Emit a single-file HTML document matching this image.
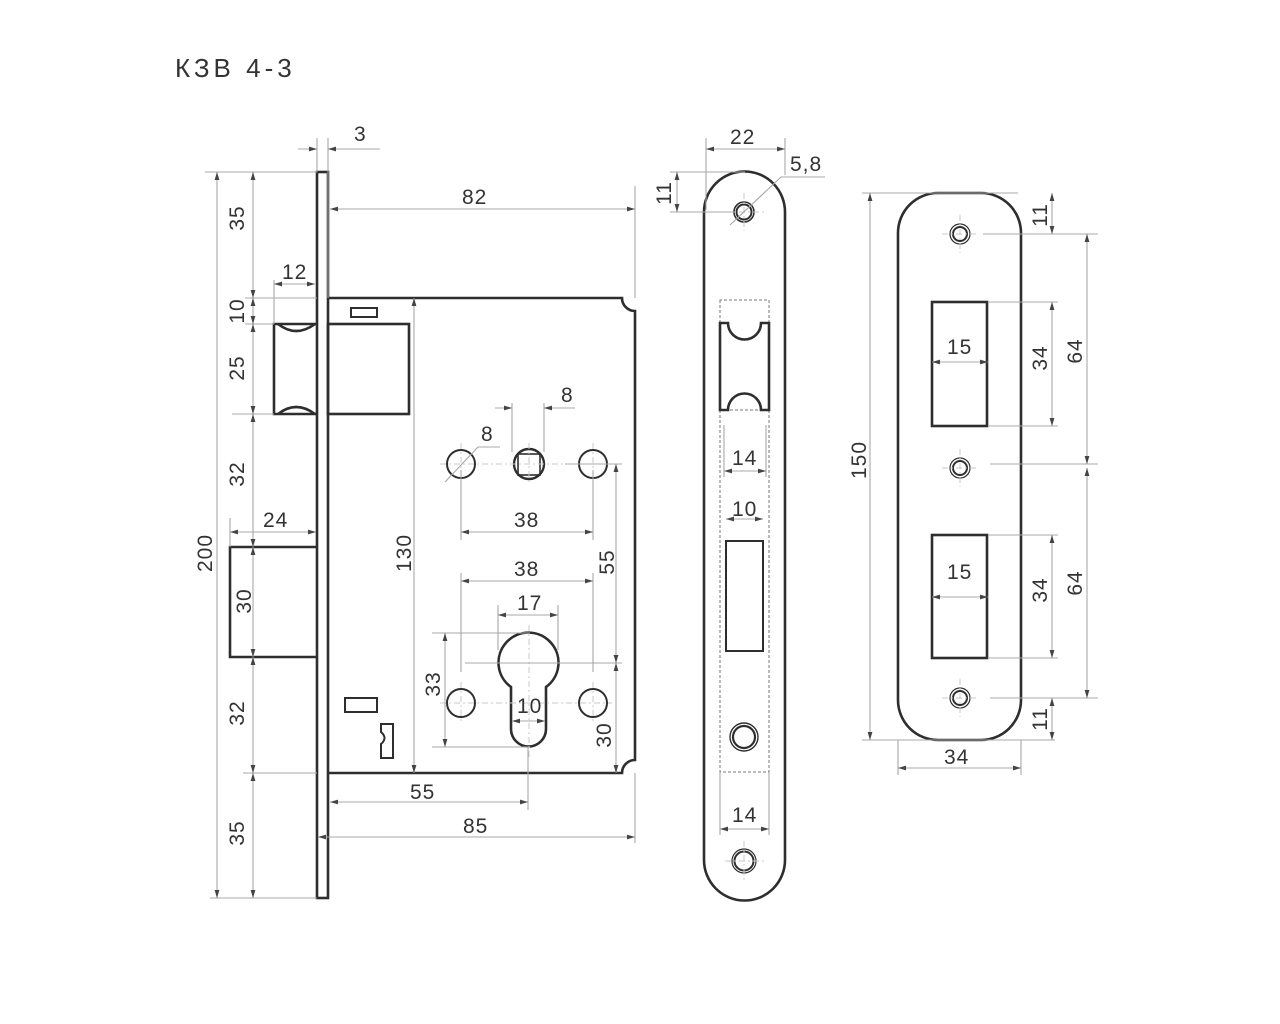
<!DOCTYPE html>
<html><head><meta charset="utf-8"><style>
html,body{margin:0;padding:0;background:#fff;}
svg{display:block}
text{font-family:"Liberation Sans Narrow","Liberation Sans",sans-serif;font-size:21px;fill:#333;letter-spacing:1px}
.o{fill:none;stroke:#2e2e2e;stroke-width:2.6}
.d{fill:none;stroke:#a8a8a8;stroke-width:1.1}
.c{fill:none;stroke:#c8c8c8;stroke-width:1;stroke-dasharray:6 3 2 3}
</style></head><body>
<svg width="1280" height="1024" viewBox="0 0 1280 1024" xmlns="http://www.w3.org/2000/svg">
<defs>
<marker id="a" viewBox="0 0 10 10" refX="10" refY="5" markerWidth="8" markerHeight="8" orient="auto-start-reverse" markerUnits="userSpaceOnUse"><path d="M0,2 L10,5 L0,8 z" fill="#444"/></marker>
</defs>
<text x="175" y="77" style="font-size:26px;letter-spacing:4px">КЗВ 4-3</text>

<!-- ===== LEFT LOCK ===== -->
<rect class="o" x="317" y="172" width="11" height="726"/>
<path class="o" d="M328,298 H622 A13,13 0 0 0 635,311 V760 A13,13 0 0 0 622,773 H328"/>
<path class="o" d="M317,324 H274 V414 H317"/>
<path class="o" d="M278,324 Q296,338 315,324"/>
<path class="o" d="M278,414 Q296,400 315,414"/>
<rect class="o" x="328" y="324" width="81" height="90"/>
<rect class="o" x="351" y="308" width="26" height="9" style="stroke-width:2"/>
<path class="o" d="M317,547 H230 V657 H317"/>
<rect class="o" x="345" y="698" width="32" height="14" style="stroke-width:2"/>
<path class="o" d="M381,724 H393 V758 H381 V744 Q388,738 381,732 Z" style="stroke-width:2"/>
<circle class="o" cx="461" cy="464" r="14" style="stroke-width:2"/>
<circle class="o" cx="529" cy="464" r="15" style="stroke-width:2.4"/>
<rect class="o" x="518" y="454" width="22" height="21" style="stroke-width:1.6"/>
<circle class="o" cx="593" cy="464" r="14" style="stroke-width:2"/>
<circle class="o" cx="461" cy="703" r="14" style="stroke-width:2"/>
<circle class="o" cx="593" cy="703" r="14" style="stroke-width:2"/>
<path class="o" d="M511,687 A30,30 0 1 1 546,687 V729 A17.5,17.5 0 0 1 511,729 Z"/>
<path class="c" d="M440,464 H612 M461,443 V485 M529,443 V485 M593,443 V485 M440,703 H612 M461,682 V724 M593,682 V724 M529,625 V760"/>

<g class="d">
<path d="M317,138 V172 M328,138 V298"/>
<path d="M298,149 H317" marker-end="url(#a)"/><path d="M380,149 H328" marker-end="url(#a)"/>
<path d="M205,172 H317 M245,298 H317 M245,324 H274 M232,414 H274 M243,773 H317 M210,898 H317"/>
<path d="M217,172 V898" marker-start="url(#a)" marker-end="url(#a)"/>
<path d="M253,172 V298" marker-start="url(#a)" marker-end="url(#a)"/>
<path d="M253,298 V324" marker-start="url(#a)" marker-end="url(#a)"/>
<path d="M253,324 V414" marker-start="url(#a)" marker-end="url(#a)"/>
<path d="M253,414 V547" marker-start="url(#a)" marker-end="url(#a)"/>
<path d="M253,547 V657" marker-start="url(#a)" marker-end="url(#a)"/>
<path d="M253,657 V773" marker-start="url(#a)" marker-end="url(#a)"/>
<path d="M253,773 V898" marker-start="url(#a)" marker-end="url(#a)"/>
<path d="M274,280 V324"/><path d="M274,284 H315" marker-start="url(#a)" marker-end="url(#a)"/>
<path d="M230,518 V547"/><path d="M230,532 H316" marker-start="url(#a)" marker-end="url(#a)"/>
<path d="M635,186 V298"/><path d="M330,209 H635" marker-start="url(#a)" marker-end="url(#a)"/>
<path d="M414,298 V773" marker-start="url(#a)" marker-end="url(#a)"/>
<path d="M512,403 V452 M544,403 V452"/><path d="M495,408 H512" marker-end="url(#a)"/><path d="M575,408 H544" marker-end="url(#a)"/>
<path d="M445,482 L478,447 H500"/>
<path d="M461,470 V540 M593,470 V540"/><path d="M461,532 H593" marker-start="url(#a)" marker-end="url(#a)"/>
<path d="M461,573 V672 M593,573 V672"/><path d="M461,581 H593" marker-start="url(#a)" marker-end="url(#a)"/>
<path d="M498,605 V650 M558,605 V650"/><path d="M498,615 H558" marker-start="url(#a)" marker-end="url(#a)"/>
<path d="M565,464 H622 M465,663 H622"/>
<path d="M616,464 V663" marker-start="url(#a)" marker-end="url(#a)"/>
<path d="M616,663 V773" marker-start="url(#a)" marker-end="url(#a)"/>
<path d="M432,633 H530 M432,747 H530"/><path d="M445,633 V747" marker-start="url(#a)" marker-end="url(#a)"/>
<path d="M512,721 H545" marker-start="url(#a)" marker-end="url(#a)"/>
<path d="M528,747 V810"/><path d="M330,802 H528" marker-start="url(#a)" marker-end="url(#a)"/>
<path d="M635,773 V843"/><path d="M318,837 H635" marker-start="url(#a)" marker-end="url(#a)"/>
</g>
<text x="354" y="141">3</text>
<text x="462" y="204">82</text>
<text x="282" y="279">12</text>
<text x="263" y="527">24</text>
<text x="561" y="402">8</text>
<text x="481" y="441">8</text>
<text x="514" y="527">38</text>
<text x="514" y="576">38</text>
<text x="517" y="610">17</text>
<text x="517" y="713">10</text>
<text x="410" y="799">55</text>
<text x="463" y="833">85</text>
<g>
<text transform="translate(244,218) rotate(-90)" text-anchor="middle">35</text>
<text transform="translate(244,311) rotate(-90)" text-anchor="middle">10</text>
<text transform="translate(244,368) rotate(-90)" text-anchor="middle">25</text>
<text transform="translate(244,474) rotate(-90)" text-anchor="middle">32</text>
<text transform="translate(251,601) rotate(-90)" text-anchor="middle">30</text>
<text transform="translate(244,713) rotate(-90)" text-anchor="middle">32</text>
<text transform="translate(244,833) rotate(-90)" text-anchor="middle">35</text>
<text transform="translate(212,553) rotate(-90)" text-anchor="middle">200</text>
<text transform="translate(411,553) rotate(-90)" text-anchor="middle">130</text>
<text transform="translate(614,562) rotate(-90)" text-anchor="middle">55</text>
<text transform="translate(611,735) rotate(-90)" text-anchor="middle">30</text>
<text transform="translate(440,684) rotate(-90)" text-anchor="middle">33</text>
</g>

<!-- ===== FACEPLATE ===== -->
<path class="o" d="M704,212 A40,40 0 0 1 785,212 V860 A40,40 0 0 1 704,860 Z"/>
<circle class="o" cx="744" cy="212" r="10" style="stroke-width:1.6"/><circle class="o" cx="744" cy="212" r="7.5" style="stroke-width:2"/>
<circle class="o" cx="744" cy="737" r="14" style="stroke-width:1.4"/><circle class="o" cx="744" cy="737" r="11" style="stroke-width:2.2"/>
<circle class="o" cx="744" cy="861" r="12" style="stroke-width:1.2"/><circle class="o" cx="744" cy="861" r="9.5" style="stroke-width:2"/>
<path d="M720,300 V772 H769 V300 Z M720,410 H769" fill="none" stroke="#777" stroke-width="1" stroke-dasharray="3 2"/>
<path class="o" d="M720,323 H728 A16,16 0 0 0 761,323 H769 V410 H761 A16,16 0 0 0 728,410 H720 Z" style="fill:#fff"/>
<rect class="o" x="726" y="541" width="37" height="110" style="stroke-width:2"/>
<path class="c" d="M725,212 H765 M744,193 V231 M725,861 H765 M744,841 V881"/>
<g class="d">
<path d="M706,138 V210 M785,138 V175"/><path d="M706,149 H785" marker-start="url(#a)" marker-end="url(#a)"/>
<path d="M670,172 H745 M670,212 H735"/><path d="M677,172 V212" marker-start="url(#a)" marker-end="url(#a)"/>
<path d="M825,177 H781 L730,225"/>
<path d="M724,425 V477 M766,425 V477"/><path d="M724,471 H766" marker-start="url(#a)" marker-end="url(#a)"/>
<path d="M726,519 H763" marker-start="url(#a)" marker-end="url(#a)"/>
<path d="M720,772 V835 M769,772 V835"/><path d="M720,829 H769" marker-start="url(#a)" marker-end="url(#a)"/>
</g>
<text x="730" y="144">22</text>
<text x="790" y="171">5,8</text>
<text x="732" y="465">14</text>
<text x="732" y="516">10</text>
<text x="732" y="822">14</text>
<text transform="translate(671,193) rotate(-90)" text-anchor="middle">11</text>

<!-- ===== STRIKE PLATE ===== -->
<path class="o" d="M938,193 H981 A40,40 0 0 1 1021,233 V700 A40,40 0 0 1 981,740 H938 A40,40 0 0 1 898,700 V233 A40,40 0 0 1 938,193 Z"/>
<rect class="o" x="932" y="302" width="55" height="124"/>
<rect class="o" x="932" y="535" width="55" height="123"/>
<circle class="o" cx="960" cy="234" r="10" style="stroke-width:1.2"/><circle class="o" cx="960" cy="234" r="7" style="stroke-width:2"/>
<circle class="o" cx="960" cy="468" r="10" style="stroke-width:1.2"/><circle class="o" cx="960" cy="468" r="7" style="stroke-width:2"/>
<circle class="o" cx="960" cy="698" r="10" style="stroke-width:1.2"/><circle class="o" cx="960" cy="698" r="7" style="stroke-width:2"/>
<path class="c" d="M942,234 H978 M960,215 V253 M942,468 H978 M960,449 V487 M942,698 H978 M960,679 V717"/>
<g class="d">
<path d="M862,193 H1018 M862,740 H1055"/><path d="M870,193 V740" marker-start="url(#a)" marker-end="url(#a)"/>
<path d="M988,302 H1058 M988,426 H1058 M988,535 H1058 M988,658 H1058"/>
<path d="M1052,302 V426" marker-start="url(#a)" marker-end="url(#a)"/>
<path d="M1052,535 V658" marker-start="url(#a)" marker-end="url(#a)"/>
<path d="M932,362 H988" marker-start="url(#a)" marker-end="url(#a)"/>
<path d="M932,597 H988" marker-start="url(#a)" marker-end="url(#a)"/>
<path d="M983,234 H1098 M990,464 H1098 M990,698 H1098"/>
<path d="M1087,234 V464" marker-start="url(#a)" marker-end="url(#a)"/>
<path d="M1087,468 V698" marker-start="url(#a)" marker-end="url(#a)"/>
<path d="M1052,193 V234" marker-start="url(#a)" marker-end="url(#a)"/>
<path d="M1052,698 V740" marker-start="url(#a)" marker-end="url(#a)"/>
<path d="M898,740 V775 M1021,740 V775"/><path d="M898,768 H1021" marker-start="url(#a)" marker-end="url(#a)"/>
</g>
<text x="947" y="354">15</text>
<text x="947" y="579">15</text>
<text x="944" y="764">34</text>
<text transform="translate(1047,358) rotate(-90)" text-anchor="middle">34</text>
<text transform="translate(1047,590) rotate(-90)" text-anchor="middle">34</text>
<text transform="translate(1082,351) rotate(-90)" text-anchor="middle">64</text>
<text transform="translate(1082,583) rotate(-90)" text-anchor="middle">64</text>
<text transform="translate(866,460) rotate(-90)" text-anchor="middle">150</text>
<text transform="translate(1047,215) rotate(-90)" text-anchor="middle">11</text>
<text transform="translate(1047,719) rotate(-90)" text-anchor="middle">11</text>
</svg>
</body></html>
